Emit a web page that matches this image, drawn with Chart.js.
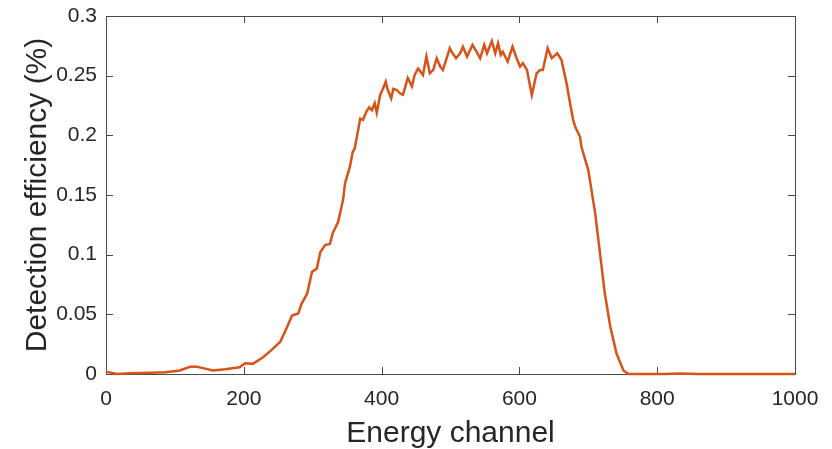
<!DOCTYPE html>
<html>
<head>
<meta charset="utf-8">
<script src="https://cdn.jsdelivr.net/npm/chart.js@4/dist/chart.umd.min.js"></script>
<style>
  html, body { margin: 0; padding: 0; background: #fff; }
  #wrap { width: 832px; height: 449px; }
</style>
</head>
<body>
<div id="wrap"><canvas id="chart" width="832" height="449"></canvas></div>
<script>
// values
const channels = [0, 16, 35, 64, 86, 107, 122, 132, 144, 155, 173, 194, 202, 213, 228, 242, 253, 263, 270, 279,
  284, 292, 299, 306, 311, 318, 325, 329, 337, 344, 347, 354, 358, 361, 369, 373, 378, 382, 386, 390,
  393, 398, 402, 406, 409, 414, 417, 422, 427, 431, 438, 444, 448, 453, 460, 465, 470, 475, 480, 485,
  489, 499, 503, 508, 514, 518, 524, 532, 538, 543, 549, 553, 560, 565, 569, 573, 576, 583, 590, 596,
  601, 605, 611, 618, 625, 630, 634, 641, 647, 655, 661, 669, 671, 678, 681, 688, 690, 700, 710, 717,
  724, 732, 741, 751, 758, 775, 810, 833, 860, 900, 1000];
const efficiency = [0.002, 0.0, 0.0006, 0.001, 0.0015, 0.003, 0.006, 0.006, 0.0045, 0.003, 0.004, 0.0056, 0.009, 0.0085, 0.014, 0.021, 0.027, 0.0395, 0.049, 0.0507,
  0.059, 0.0675, 0.0856, 0.0884, 0.102, 0.108, 0.109, 0.118, 0.1275, 0.1457, 0.16, 0.1737, 0.186, 0.189, 0.214, 0.213, 0.22, 0.2235, 0.221, 0.227,
  0.219, 0.234, 0.239, 0.245, 0.238, 0.231, 0.239, 0.238, 0.235, 0.234, 0.248, 0.241, 0.2506, 0.256, 0.2506, 0.266, 0.252, 0.2548, 0.2646, 0.2576,
  0.2548, 0.273, 0.2688, 0.2646, 0.2688, 0.2743, 0.266, 0.2758, 0.27, 0.2646, 0.2758, 0.2688, 0.279, 0.2688, 0.2772, 0.2674, 0.27, 0.2617, 0.2743, 0.2646,
  0.2576, 0.2604, 0.2548, 0.2338, 0.252, 0.2548, 0.2548, 0.273, 0.2646, 0.2688, 0.2632, 0.2422, 0.235, 0.2128, 0.2072, 0.1988, 0.1904, 0.1709, 0.1346, 0.101,
  0.0674, 0.0394, 0.0171, 0.003, 0.0, 0.0, 0.0, 0.0005, 0.0, 0.0, 0.0];
const xTicks = [0, 200, 400, 600, 800, 1000];
const yTicks = [0, 0.05, 0.1, 0.15, 0.2, 0.25, 0.3];

const axisColor = '#4a4a4a';
const textColor = '#262626';
const fontFamily = 'Liberation Sans, Arial, sans-serif';

// MATLAB style box with inward ticks on all four sides
const boxPlugin = {
  id: 'box',
  beforeDatasetsDraw(chart) {
    const { ctx, chartArea: a, scales } = chart;
    const len = 7;
    ctx.save();
    ctx.strokeStyle = axisColor;
    ctx.lineWidth = 1;
    ctx.strokeRect(a.left + 0.5, a.top + 0.5, a.right - a.left, a.bottom - a.top);
    ctx.beginPath();
    xTicks.forEach(v => {
      const x = Math.round(scales.x.getPixelForValue(v)) + 0.5;
      ctx.moveTo(x, a.bottom); ctx.lineTo(x, a.bottom - len);
      ctx.moveTo(x, a.top); ctx.lineTo(x, a.top + len);
    });
    yTicks.forEach(v => {
      const y = Math.round(scales.y.getPixelForValue(v)) + 0.5;
      ctx.moveTo(a.left, y); ctx.lineTo(a.left + len, y);
      ctx.moveTo(a.right, y); ctx.lineTo(a.right - len, y);
    });
    ctx.stroke();
    ctx.restore();
  }
};

new Chart(document.getElementById('chart'), {
  type: 'line',
  data: {
    datasets: [{
      data: channels.map((c, i) => ({ x: c, y: efficiency[i] })),
      borderColor: '#D95319',
      borderWidth: 2.5,
      pointRadius: 0,
      tension: 0,
      clip: 4
    }]
  },
  options: {
    responsive: false,
    animation: false,
    layout: { padding: { top: 16, right: 37, left: 0, bottom: 0 } },
    plugins: { legend: { display: false }, tooltip: { enabled: false } },
    scales: {
      x: {
        type: 'linear',
        min: 0, max: 1000,
        afterBuildTicks: s => { s.ticks = xTicks.map(v => ({ value: v })); },
        afterFit: s => { s.height = 75; s.paddingLeft = 0; s.paddingRight = 0; },
        grid: { display: false, drawTicks: false },
        border: { display: false },
        ticks: {
          color: textColor, padding: 13, maxRotation: 0,
          font: { family: fontFamily, size: 21 },
          callback: v => String(v)
        },
        title: {
          display: true, text: 'Energy channel', color: textColor,
          font: { family: fontFamily, size: 30 },
          padding: { top: 0, bottom: -3 }
        }
      },
      y: {
        min: 0, max: 0.3,
        afterBuildTicks: s => { s.ticks = yTicks.map(v => ({ value: v })); },
        afterFit: s => { s.width = 106; s.paddingTop = 0; s.paddingBottom = 0; },
        grid: { display: false, drawTicks: false },
        border: { display: false },
        ticks: {
          color: textColor, padding: 9,
          font: { family: fontFamily, size: 21 },
          callback: v => String(+v.toFixed(2))
        },
        title: {
          display: true, text: 'Detection efficiency (%)', color: textColor,
          font: { family: fontFamily, size: 30 },
          padding: { top: 20, bottom: 0 }
        }
      }
    }
  },
  plugins: [boxPlugin]
});
</script>
</body>
</html>
